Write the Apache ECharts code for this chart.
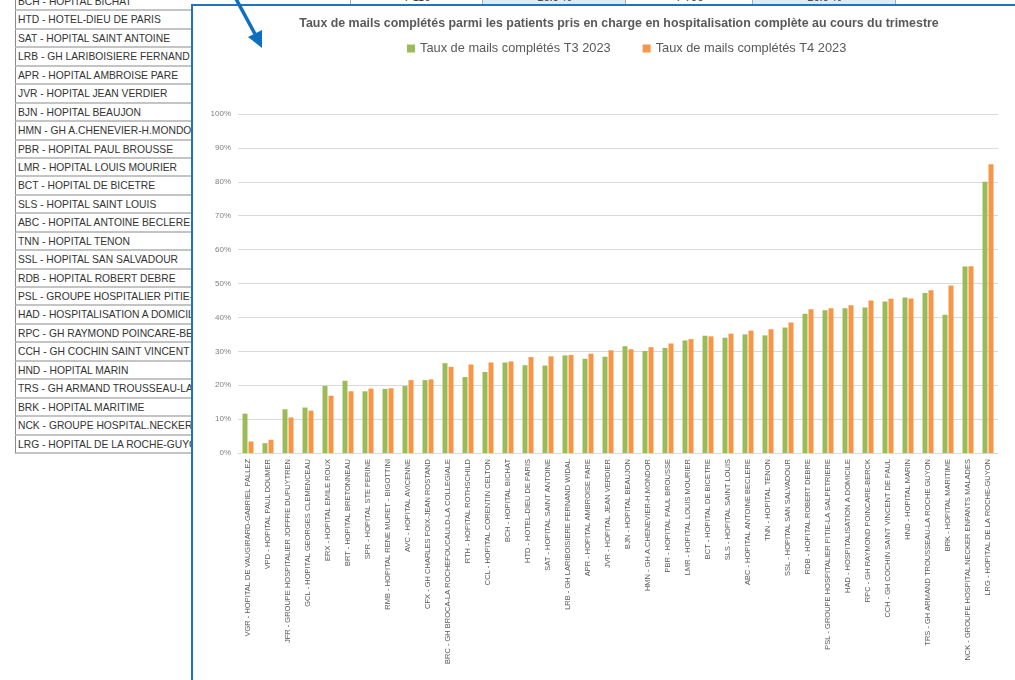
<!DOCTYPE html>
<html>
<head>
<meta charset="utf-8">
<script src="https://cdn.jsdelivr.net/npm/echarts@6/dist/echarts.min.js"></script>
<style>
  body { margin: 0; width: 1015px; height: 680px; overflow: hidden; background: #fff; position: relative; font-family: "Liberation Sans", sans-serif; }
  #sheet { position: absolute; left: 15px; top: -7px; width: 200px; }
  #sheet div { height: 16.45px; border-bottom: 2px solid #c4c4c4; border-left: 1px solid #888; font-size: 10.3px; line-height: 17px; color: #333; padding-left: 2px; white-space: nowrap; overflow: hidden; }
  #topcells { position: absolute; left: 192px; top: 0; width: 823px; height: 5px; overflow: hidden; }
  #topcells span { position: absolute; top: -9px; height: 14px; font-size: 11px; color: #333; text-align: center; border-left: 1px solid #aaa; }
  #chartBox { position: absolute; left: 191px; top: 4px; width: 824px; height: 680px; border-left: 2px solid #1f74c2; border-top: 2px solid #1f74c2; background: #fff; }
  #chart { width: 822px; height: 674px; }
  #arrow { position: absolute; left: 0; top: 0; width: 1015px; height: 680px; pointer-events: none; }
</style>
</head>
<body>
<div id="sheet"></div>
<div id="topcells">
  <span style="left:158px;width:132px;">7 116</span>
  <span style="left:290px;width:143px;background:#ddebf7;">26.9 %</span>
  <span style="left:433px;width:127px;">7 796</span>
  <span style="left:560px;width:143px;background:#ddebf7;">26.9 %</span>
  <span style="left:703px;width:120px;"></span>
</div>
<div id="chartBox"><div id="chart"></div></div>
<svg id="arrow">
  <line x1="235" y1="-3" x2="255" y2="34" stroke="#0e6fc1" stroke-width="3.5"/>
  <polygon points="262,48 248,37 262,30" fill="#0e6fc1"/>
</svg>
<script>
// établissements, triés comme dans le graphique
const categories = [
  'VGR - HOPITAL DE VAUGIRARD-GABRIEL PALLEZ', 'VPD - HOPITAL PAUL DOUMER',
  'JFR - GROUPE HOSPITALIER JOFFRE DUPUYTREN', 'GCL - HOPITAL GEORGES CLEMENCEAU',
  'ERX - HOPITAL EMILE ROUX', 'BRT - HOPITAL BRETONNEAU', 'SPR - HOPITAL STE PERINE',
  'RMB - HOPITAL RENE MURET - BIGOTTINI', 'AVC - HOPITAL AVICENNE',
  'CFX - GH CHARLES FOIX-JEAN ROSTAND', 'BRC - GH BROCA-LA ROCHEFOUCAULD-LA COLLEGIALE',
  'RTH - HOPITAL ROTHSCHILD', 'CCL - HOPITAL CORENTIN CELTON', 'BCH - HOPITAL BICHAT',
  'HTD - HOTEL-DIEU DE PARIS', 'SAT - HOPITAL SAINT ANTOINE',
  'LRB - GH LARIBOISIERE FERNAND WIDAL', 'APR - HOPITAL AMBROISE PARE',
  'JVR - HOPITAL JEAN VERDIER', 'BJN - HOPITAL BEAUJON', 'HMN - GH A.CHENEVIER-H.MONDOR',
  'PBR - HOPITAL PAUL BROUSSE', 'LMR - HOPITAL LOUIS MOURIER', 'BCT - HOPITAL DE BICETRE',
  'SLS - HOPITAL SAINT LOUIS', 'ABC - HOPITAL ANTOINE BECLERE', 'TNN - HOPITAL TENON',
  'SSL - HOPITAL SAN SALVADOUR', 'RDB - HOPITAL ROBERT DEBRE',
  'PSL - GROUPE HOSPITALIER PITIE-LA SALPETRIERE', 'HAD - HOSPITALISATION A DOMICILE',
  'RPC - GH RAYMOND POINCARE-BERCK', 'CCH - GH COCHIN SAINT VINCENT DE PAUL',
  'HND - HOPITAL MARIN', 'TRS - GH ARMAND TROUSSEAU-LA ROCHE GUYON',
  'BRK - HOPITAL MARITIME', 'NCK - GROUPE HOSPITAL.NECKER ENFANTS MALADES',
  'LRG - HOPITAL DE LA ROCHE-GUYON'
]
// taux en %
const t3 = [11.6, 2.9, 12.9, 13.4, 19.8, 21.3, 18.2, 18.9, 19.8, 21.5, 26.5, 22.4, 23.9, 26.7,
  25.9, 25.8, 28.8, 27.8, 28.4, 31.5, 30.1, 31.0, 33.2, 34.6, 34.0, 35.0, 34.7, 37.0, 41.1,
  42.1, 42.7, 42.9, 44.7, 45.9, 47.2, 40.8, 55.0, 80.0]
const t4 = [3.4, 3.9, 10.5, 12.5, 16.9, 18.2, 19.0, 19.1, 21.5, 21.7, 25.4, 26.1, 26.7, 27.0,
  28.3, 28.5, 28.9, 29.3, 30.3, 30.6, 31.2, 32.3, 33.6, 34.4, 35.2, 36.1, 36.5, 38.5, 42.4,
  42.7, 43.6, 45.0, 45.5, 45.6, 48.0, 49.4, 55.1, 85.2]
const seriesNames = ['Taux de mails complétés T3 2023', 'Taux de mails complétés T4 2023']
// lignes visibles de la feuille derrière le graphique
const sheetRows = categories.slice(13)

let sheet = document.getElementById('sheet')
sheetRows.forEach(name => {
  let d = document.createElement('div')
  d.textContent = name
  sheet.appendChild(d)
})

let chart = echarts.init(document.getElementById('chart'))
chart.setOption({
  animation: false,
  textStyle: { fontFamily: 'Liberation Sans' },
  title: {
    text: 'Taux de mails complétés parmi les patients pris en charge en hospitalisation complète au cours du trimestre',
    left: 421,
    textAlign: 'center',
    top: 7,
    textStyle: { fontSize: 12.4, fontWeight: 'bold', color: '#595959' }
  },
  legend: {
    data: seriesNames,
    left: 209,
    top: 31,
    itemWidth: 8,
    itemHeight: 8,
    itemGap: 32,
    icon: 'rect',
    textStyle: { fontSize: 12.8, color: '#595959' }
  },
  grid: { left: 45, right: 17, top: 108, bottom: 227 },
  xAxis: {
    type: 'category',
    data: categories,
    axisLine: { lineStyle: { color: '#d9d9d9' } },
    axisTick: { show: false },
    axisLabel: { rotate: 90, fontSize: 7.5, color: '#595959', margin: 6, interval: 0 }
  },
  yAxis: {
    type: 'value',
    min: 0,
    max: 100,
    interval: 10,
    axisLabel: { formatter: '{value}%', fontSize: 8, color: '#7f7f7f', margin: 7 },
    splitLine: { lineStyle: { color: '#d9d9d9' } }
  },
  series: [
    {
      name: seriesNames[0],
      type: 'bar',
      data: t3,
      barWidth: 5,
      barGap: '20%',
      itemStyle: { color: '#9bbb59' }
    },
    {
      name: seriesNames[1],
      type: 'bar',
      data: t4,
      barWidth: 5,
      itemStyle: { color: '#f79646' }
    }
  ]
})
</script>
</body>
</html>
